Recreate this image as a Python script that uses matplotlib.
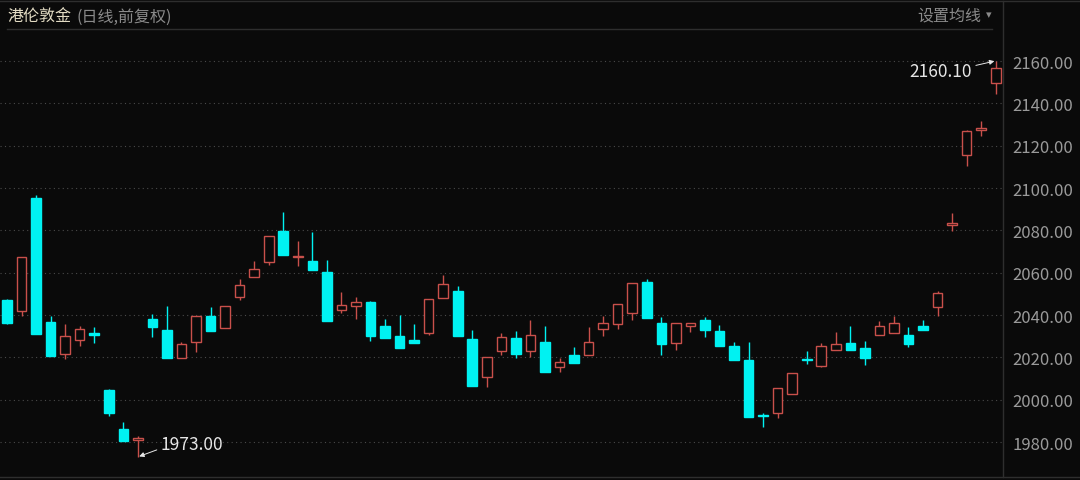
import matplotlib
matplotlib.use('Agg')
from matplotlib import pyplot as plt
from matplotlib.lines import Line2D
import numpy as np

plt.rcParams['font.family'] = ['Noto Sans CJK SC', 'DejaVu Sans']

# daily candles (open, high, low, close)
open_ = [2047.0, 2042.1, 2095.3, 2036.6, 2021.4, 2028.4, 2031.3, 2004.6, 1986.0, 1980.8,
         2038.1, 2032.8, 2019.7, 2027.4, 2039.4, 2033.9, 2048.4, 2057.8, 2065.2, 2079.7,
         2067.3, 2065.7, 2060.3, 2042.2, 2044.1, 2046.3, 2034.8, 2030.3, 2028.2, 2031.4,
         2047.9, 2051.2, 2028.7, 2010.9, 2023.2, 2029.0, 2023.2, 2027.4, 2015.3, 2021.1,
         2021.3, 2033.4, 2035.8, 2040.8, 2055.5, 2036.1, 2026.8, 2035.0, 2037.7, 2032.3,
         2025.2, 2018.8, 1992.8, 1993.5, 2002.6, 2019.2, 2016.1, 2023.5, 2026.7, 2024.6,
         2030.6, 2031.4, 2030.7, 2034.8, 2043.8, 2082.7, 2115.6, 2127.6, 2149.5]
high = [2047.5, 2067.3, 2096.7, 2039.4, 2035.8, 2035.0, 2034.2, 2005.0, 1989.3, 1983.0,
        2040.5, 2044.4, 2027.1, 2039.4, 2043.8, 2044.1, 2057.0, 2065.4, 2077.2, 2088.5,
        2074.8, 2079.4, 2066.1, 2050.9, 2048.4, 2046.5, 2038.1, 2039.9, 2035.8, 2047.6,
        2058.8, 2053.5, 2032.8, 2020.0, 2031.4, 2032.3, 2037.8, 2034.6, 2019.7, 2024.8,
        2034.2, 2039.4, 2045.2, 2055.0, 2057.0, 2038.9, 2036.1, 2036.2, 2038.9, 2035.3,
        2027.1, 2027.1, 1993.7, 2005.4, 2012.6, 2023.0, 2026.8, 2032.1, 2035.0, 2027.7,
        2037.0, 2039.7, 2034.2, 2037.8, 2051.2, 2088.1, 2127.3, 2131.5, 2160.1]
low = [2036.0, 2039.4, 2031.0, 2020.5, 2019.2, 2025.5, 2027.0, 1992.2, 1980.5, 1973.0,
       2029.6, 2019.5, 2019.5, 2022.4, 2032.5, 2033.9, 2047.3, 2057.8, 2063.8, 2068.5,
       2063.0, 2061.4, 2037.2, 2041.0, 2038.0, 2027.7, 2029.3, 2024.4, 2026.9, 2030.7,
       2047.9, 2030.3, 2006.3, 2006.2, 2021.1, 2019.9, 2020.3, 2012.9, 2013.2, 2017.3,
       2021.3, 2030.3, 2033.4, 2037.8, 2038.8, 2021.3, 2023.6, 2031.8, 2029.8, 2025.2,
       2018.8, 1992.0, 1986.9, 1991.2, 2002.6, 2016.9, 2015.6, 2023.5, 2023.5, 2016.4,
       2030.6, 2031.4, 2025.0, 2033.1, 2039.7, 2079.8, 2110.6, 2124.4, 2144.4]
close = [2036.2, 2067.3, 2031.0, 2020.7, 2030.0, 2033.2, 2030.8, 1993.7, 1980.7, 1982.0,
         2034.2, 2019.6, 2026.2, 2039.4, 2032.6, 2044.1, 2054.2, 2061.6, 2077.2, 2068.5,
         2067.9, 2061.4, 2037.2, 2044.7, 2046.0, 2030.3, 2029.3, 2024.4, 2026.9, 2047.6,
         2054.5, 2030.3, 2006.3, 2020.0, 2029.5, 2021.6, 2030.4, 2012.9, 2018.0, 2017.3,
         2027.1, 2036.1, 2045.2, 2055.0, 2038.8, 2026.5, 2036.1, 2036.1, 2033.1, 2025.2,
         2018.8, 1992.0, 1992.3, 2005.4, 2012.6, 2018.8, 2025.4, 2026.2, 2023.5, 2019.7,
         2034.8, 2036.1, 2026.5, 2033.1, 2050.4, 2083.3, 2127.1, 2128.2, 2156.5]
price_ticks = [1980, 2000, 2020, 2040, 2060, 2080, 2100, 2120, 2140, 2160]

bg = '#0a0a0a'
up_col = '#c9504b'
down_col = '#00f2f2'

W, H = 1080, 481
fig = plt.figure(figsize=(W / 100, H / 100), dpi=100, facecolor=bg)
ax = fig.add_axes([0, 3 / H, 1003 / W, (478 - 32) / H])
ax.set_facecolor(bg)

o = np.array(open_)
hi = np.array(high)
lo = np.array(low)
c = np.array(close)
x = np.arange(len(o))
up = c >= o
bw = 0.66

for i in x:
    col = up_col if up[i] else down_col
    top = max(o[i], c[i])
    bot = min(o[i], c[i])
    ax.vlines(i, top, hi[i], color=col, lw=1, zorder=2)
    ax.vlines(i, lo[i], bot, color=col, lw=1, zorder=2)
    h = max(top - bot, 0.15)
    if up[i]:
        ax.bar(i, h, bottom=bot, width=bw, facecolor=bg, edgecolor=col, lw=1, zorder=3)
    else:
        ax.bar(i, h, bottom=bot, width=bw, facecolor=col, edgecolor=col, lw=1, zorder=3)

ax.set_xlim(-0.48, 68.5)
ax.set_ylim(1963.5, 2174.2)
ax.set_yticks(price_ticks)
ax.yaxis.tick_right()
ax.yaxis.set_major_formatter(matplotlib.ticker.FormatStrFormatter('%.2f'))
ax.tick_params(axis='y', length=0, pad=6.5, labelsize=12, labelcolor='#9a9a9a')
ax.set_xticks([])
ax.grid(axis='y', linestyle=(0, (1, 3)), color='#4a4a4a', lw=0.8)
ax.set_axisbelow(True)
for s in ax.spines.values():
    s.set_visible(False)

# max / min markers
imin = int(np.argmin(lo))
imax = int(np.argmax(hi))
ax.annotate('%.2f' % lo[imin], xy=(imin, lo[imin]), xytext=(23, 13),
            textcoords='offset pixels', ha='left', va='center', color='#e6e6e6', fontsize=12.5,
            arrowprops=dict(arrowstyle='-|>', color='#e6e6e6', lw=0.7, mutation_scale=7,
                            shrinkA=1, shrinkB=1, relpos=(0, 0.25)))
ax.annotate('%.2f' % hi[imax], xy=(imax, hi[imax]), xytext=(-24, -10),
            textcoords='offset pixels', ha='right', va='center', color='#e6e6e6', fontsize=12.5,
            arrowprops=dict(arrowstyle='-|>', color='#e6e6e6', lw=0.7, mutation_scale=7,
                            shrinkA=1, shrinkB=1, relpos=(1, 0.75)))

# frame lines and header
def fline(x0, y0, x1, y1, col='#2e2e2e'):
    fig.add_artist(Line2D([x0 / W, x1 / W], [1 - y0 / H, 1 - y1 / H], color=col, lw=1))

fline(0, 2, W, 2)
fline(7, 30, 992, 30)
fline(1003, 2, 1003, 478)
fline(0, 478, W, 478)

t1 = fig.text(7 / W, 1 - 17 / H, '港伦敦金', color='#e3dcc4', fontsize=11.5, va='center', ha='left')
fig.canvas.draw()
bb = t1.get_window_extent()
fig.text((bb.x1 + 6) / W, 1 - 17 / H, '(日线,前复权)', color='#8a8a8a', fontsize=11.5,
         va='center', ha='left')
fig.text(981 / W, 1 - 16 / H, '设置均线', color='#8a8a8a', fontsize=11.5, va='center', ha='right')
fig.text(986 / W, 1 - 15 / H, '▾', color='#8a8a8a', fontsize=8, va='center', ha='left',
         family=['DejaVu Sans'])

fig.savefig('out.png', dpi=100, facecolor=bg)
